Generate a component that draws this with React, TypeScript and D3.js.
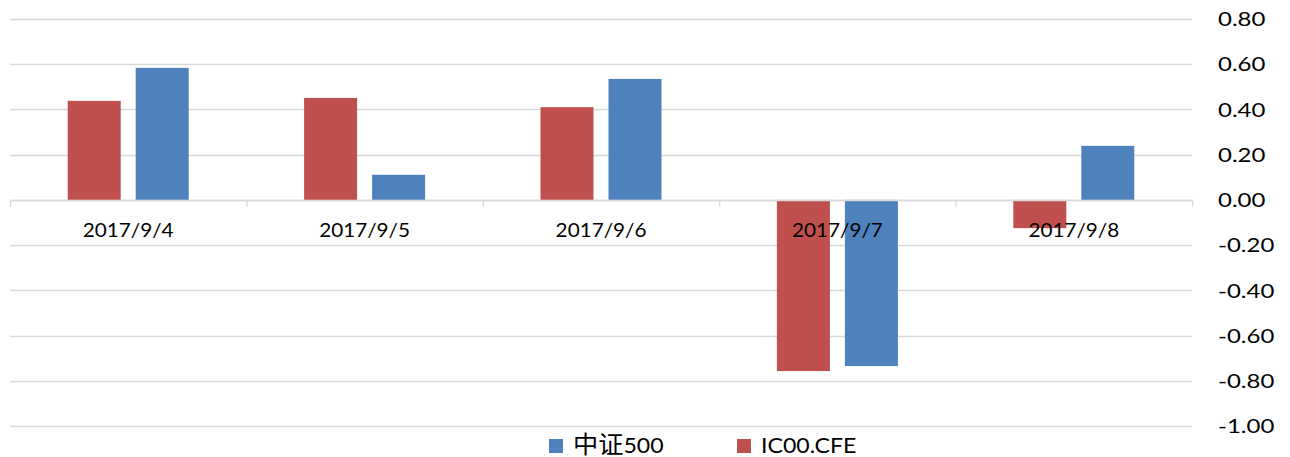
import React from "react";
import * as d3 from "d3";

const categories = ["2017/9/4", "2017/9/5", "2017/9/6", "2017/9/7", "2017/9/8"];
const ic00Values = [0.438, 0.451, 0.41, -0.757, -0.125];
const zz500Values = [0.584, 0.111, 0.535, -0.735, 0.239];
const yTicks = [0.8, 0.6, 0.4, 0.2, 0, -0.2, -0.4, -0.6, -0.8, -1.0];

const RED = "#C0504D";
const BLUE = "#4F81BD";
const GRID = "#D9D9D9";
const FONT = "Lato, 'Noto Sans CJK SC', sans-serif";

const fmt = (v: number) => d3.format(".2f")(v).replace("\u2212", "-");

export default function App() {
  const W = 1290, H = 457;
  const x0 = 10, x1 = 1192;
  const y = d3.scaleLinear().domain([-1, 0.8]).range([426, 19]);
  const xBand = d3.scaleBand<string>().domain(categories).range([x0, x1]).paddingInner(0).paddingOuter(0);
  const bw = xBand.bandwidth();
  const barW = 53;
  const gap = 15;
  const bounds = [...categories.map((c) => xBand(c)!), x1];

  return (
    <svg width={W} height={H} style={{ position: "absolute", left: 0, top: 0 }} fontFamily={FONT}>
      <rect x={0} y={0} width={W} height={H} fill="#fff" />
      {yTicks.map((t) => (
        <line key={"g" + t} x1={x0} x2={x1} y1={Math.round(y(t)) + 0.5} y2={Math.round(y(t)) + 0.5} stroke={GRID} strokeWidth={1.3} />
      ))}
      {yTicks.map((t) => (
        <g key={"l" + t} transform={`translate(1218,${y(t)}) scale(1.2,1)`}>
          <text x={0} y={0} dy="0.36em" fontSize={20} fill="#000">
            {fmt(t)}
          </text>
        </g>
      ))}
      {categories.map((c, i) => {
        const cx = xBand(c)! + bw / 2;
        const rx = cx - gap / 2 - barW;
        const bx = cx + gap / 2;
        const rv = ic00Values[i];
        const bv = zz500Values[i];
        return (
          <g key={c}>
            <rect x={rx} y={Math.min(y(rv), y(0))} width={barW} height={Math.abs(y(rv) - y(0))} fill={RED} />
            <rect x={bx} y={Math.min(y(bv), y(0))} width={barW} height={Math.abs(y(bv) - y(0))} fill={BLUE} />
          </g>
        );
      })}
      <line x1={x0} x2={x1} y1={Math.round(y(0)) + 0.5} y2={Math.round(y(0)) + 0.5} stroke={GRID} strokeWidth={1.3} />
      {bounds.map((bx, i) => (
        <line key={"t" + i} x1={bx + 0.5} x2={bx + 0.5} y1={y(0)} y2={y(0) + 7} stroke={GRID} strokeWidth={1.3} />
      ))}
      {categories.map((c) => (
        <g key={"c" + c} transform={`translate(${xBand(c)! + bw / 2},237) scale(1.12,1)`}>
          <text x={0} y={0} textAnchor="middle" fontSize={18.5} fill="#000">
            {c}
          </text>
        </g>
      ))}
      <rect x={549} y={439} width={14} height={14} fill={BLUE} />
      <g transform="translate(573,453) scale(1.05,1)">
        <text x={0} y={0} fontSize={22} fill="#000">
          <tspan fontSize={24}>中证</tspan>500
        </text>
      </g>
      <rect x={737} y={439} width={14} height={14} fill={RED} />
      <g transform="translate(761,453) scale(1.05,1)">
        <text x={0} y={0} fontSize={22} fill="#000">IC00.CFE</text>
      </g>
    </svg>
  );
}
